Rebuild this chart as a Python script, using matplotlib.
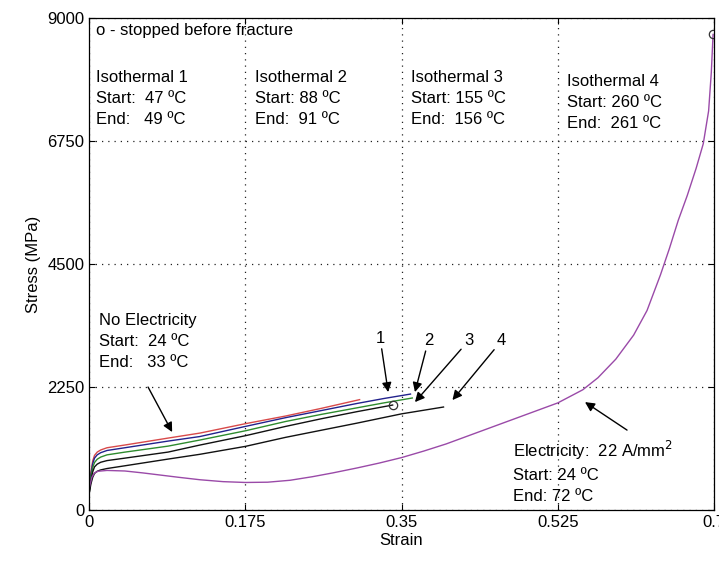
import matplotlib.pyplot as plt
import numpy as np

plt.rcParams['font.family'] = ['Liberation Sans', 'DejaVu Sans']

# stress-strain curves (strain, MPa)
no_elec_x = [0.0, 0.002, 0.004, 0.006, 0.009, 0.013, 0.02, 0.04, 0.0885, 0.124, 0.175,
             0.22, 0.26, 0.303]
no_elec_y = [380, 700, 900, 1000, 1060, 1100, 1140, 1190, 1317, 1408, 1580,
             1720, 1860, 2020]

iso1_x = [0.0, 0.002, 0.004, 0.006, 0.009, 0.013, 0.02, 0.04, 0.0885, 0.124, 0.175,
          0.22, 0.26, 0.30, 0.33, 0.36]
iso1_y = [350, 650, 850, 950, 1010, 1050, 1090, 1140, 1262, 1345, 1530,
          1690, 1820, 1950, 2040, 2122]

iso2_x = [0.0, 0.002, 0.004, 0.006, 0.009, 0.013, 0.02, 0.04, 0.0885, 0.124, 0.175,
          0.22, 0.26, 0.30, 0.33, 0.362]
iso2_y = [330, 600, 780, 870, 930, 970, 1010, 1060, 1170, 1281, 1450,
          1620, 1750, 1870, 1960, 2050]

iso3_x = [0.0, 0.002, 0.004, 0.006, 0.009, 0.013, 0.02, 0.04, 0.0885, 0.124, 0.175,
          0.22, 0.26, 0.30, 0.34]
iso3_y = [310, 540, 700, 790, 840, 875, 905, 950, 1061, 1189, 1360,
          1530, 1670, 1800, 1921]

iso4_x = [0.0, 0.002, 0.004, 0.006, 0.009, 0.013, 0.02, 0.04, 0.0885, 0.124, 0.175,
          0.22, 0.26, 0.30, 0.35, 0.397]
iso4_y = [300, 480, 600, 670, 710, 735, 760, 810, 933, 1020, 1165,
          1330, 1460, 1590, 1760, 1885]

elec_x = [0.0, 0.003, 0.006, 0.01, 0.02, 0.04, 0.06, 0.08, 0.1, 0.124, 0.15, 0.175,
          0.2, 0.225, 0.25, 0.273, 0.3, 0.325, 0.35, 0.375, 0.4, 0.425, 0.45, 0.475,
          0.5, 0.525, 0.553, 0.57, 0.59, 0.61, 0.625, 0.64, 0.65, 0.66, 0.67, 0.68,
          0.688, 0.694, 0.697, 0.699]
elec_y = [400, 600, 680, 710, 725, 715, 680, 640, 600, 555, 520, 505,
          510, 545, 610, 680, 770, 860, 960, 1080, 1210, 1360, 1510, 1660,
          1810, 1960, 2200, 2420, 2760, 3200, 3650, 4300, 4780, 5300, 5750, 6250,
          6700, 7300, 8000, 8700]

fig = plt.figure(figsize=(7.19, 5.63), dpi=100)
ax = fig.add_axes([0.124, 0.094, 0.869, 0.874])

ax.plot(no_elec_x, no_elec_y, color='#d84a4a', lw=1)
ax.plot(iso1_x, iso1_y, color='#22228c', lw=1)
ax.plot(iso2_x, iso2_y, color='#2e8b2e', lw=1)
ax.plot(iso3_x, iso3_y, color='#111111', lw=1)
ax.plot(iso4_x, iso4_y, color='#111111', lw=1)
ax.plot(elec_x, elec_y, color='#9a4aa8', lw=1)

# 'o' = stopped before fracture
ax.plot(iso3_x[-1], iso3_y[-1], 'o', mfc='none', mec='#333333', ms=6, mew=0.9)
ax.plot(elec_x[-1], elec_y[-1], 'o', mfc='none', mec='#333333', ms=6, mew=0.9)

ax.set_xlim(0, 0.7)
ax.set_ylim(0, 9000)
ax.set_xticks([0, 0.175, 0.35, 0.525, 0.7])
ax.set_xticklabels(['0', '0.175', '0.35', '0.525', '0.7'])
ax.set_yticks([0, 2250, 4500, 6750, 9000])
ax.tick_params(direction='in', top=True, right=True, labelsize=12, length=4)
ax.grid(True, linestyle=(0, (1, 4)), color='#222222', lw=0.9)
for s in ax.spines.values():
    s.set_linewidth(0.9)
ax.set_xlabel('Strain', fontsize=12, labelpad=2)
ax.set_ylabel('Stress (MPa)', fontsize=12, labelpad=4)

fs = 12
ls = 1.5
ax.text(0.008, 8780, 'o - stopped before fracture', fontsize=fs, va='center')
ax.text(0.008, 8050, 'Isothermal 1\nStart:  47 ºC\nEnd:   49 ºC', fontsize=fs,
        va='top', linespacing=ls)
ax.text(0.186, 8050, 'Isothermal 2\nStart: 88 ºC\nEnd:  91 ºC', fontsize=fs,
        va='top', linespacing=ls)
ax.text(0.361, 8050, 'Isothermal 3\nStart: 155 ºC\nEnd:  156 ºC', fontsize=fs,
        va='top', linespacing=ls)
ax.text(0.535, 7980, 'Isothermal 4\nStart: 260 ºC\nEnd:  261 ºC', fontsize=fs,
        va='top', linespacing=ls)
ax.text(0.011, 3600, 'No Electricity\nStart:  24 ºC\nEnd:   33 ºC', fontsize=fs,
        va='top', linespacing=ls)
ax.text(0.475, 1300, 'Electricity:  22 A/mm$^2$\nStart: 24 ºC\nEnd: 72 ºC', fontsize=fs,
        va='top', linespacing=ls)

arrow = dict(arrowstyle='-|>', color='black', lw=1, mutation_scale=14,
             shrinkA=0, shrinkB=0)
ax.annotate('', xy=(0.093, 1427), xytext=(0.066, 2250), arrowprops=arrow)
ax.annotate('1', xy=(0.335, 2158), xytext=(0.326, 3000), arrowprops=arrow,
            fontsize=fs, ha='center', va='bottom')
ax.annotate('2', xy=(0.365, 2158), xytext=(0.380, 2960), arrowprops=arrow,
            fontsize=fs, ha='center', va='bottom')
ax.annotate('3', xy=(0.365, 1975), xytext=(0.425, 2960), arrowprops=arrow,
            fontsize=fs, ha='center', va='bottom')
ax.annotate('4', xy=(0.407, 2012), xytext=(0.462, 2960), arrowprops=arrow,
            fontsize=fs, ha='center', va='bottom')
ax.annotate('', xy=(0.5555, 1975), xytext=(0.6026, 1463), arrowprops=arrow)

fig.savefig('out.png', dpi=100)
